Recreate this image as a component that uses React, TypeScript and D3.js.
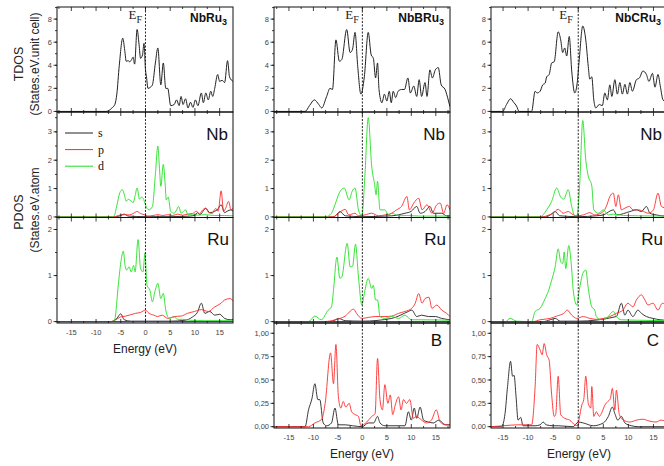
import * as d3 from 'd3'

type Pt = [number, number]

const energyTicks = [-15, -10, -5, 0, 5, 10, 15]
const compounds = ['NbRu', 'NbBRu', 'NbCRu']
const tdosTicks = [0, 2, 4, 6, 8]
const nbTicks = [0, 1, 2, 3]
const ruTicks = [0, 1, 2]
const lightTicks = [0, 0.25, 0.5, 0.75, 1]
const lightTickLabels = ['0,00', '0,25', '0,50', '0,75', '1,00']
const orbitals = ['s', 'p', 'd']
const lightAtoms = ['B', 'C']

// ---- NbRu3 ----
const tdosNbRu3: Pt[] = [[-17.9,0],[-8,0],[-7.5,0.05],[-6.8,0.3],[-6.2,0.6],[-5.8,1.5],[-5.3,4.0],[-4.6,6.35],[-4.2,5.3],[-3.9,4.35],[-3.5,4.4],[-3.2,4.3],[-2.8,4.5],[-2.5,4.7],[-2.2,4.1],[-1.7,7.1],[-1.3,5.8],[-1.0,4.6],[-0.6,4.9],[-0.3,5.9],[0,3.6],[0.2,3.0],[0.5,2.0],[1.0,2.1],[1.4,2.3],[2.0,4.2],[2.5,5.5],[3.1,2.3],[3.6,4.2],[4.1,2.0],[4.5,2.0],[5.1,0.5],[5.8,0.6],[6.3,1.0],[6.8,0.5],[7.2,1.3],[7.6,0.6],[8.1,1.1],[8.6,0.3],[9.1,0.8],[9.6,0.35],[10.1,1.0],[10.6,0.5],[11.3,1.6],[11.7,0.75],[12.2,1.6],[12.7,1.0],[13.2,1.75],[13.6,1.3],[14.0,2.0],[14.6,3.2],[15.0,2.6],[15.5,2.7],[16.0,2.5],[16.6,4.4],[17.0,3.0],[17.7,2.6]]
const nbSNbRu3: Pt[] = [[-17.9,0],[-6,0],[-5,0.05],[-4.3,0.1],[-3.5,0.03],[0,0.01],[5,0.01],[8,0.02],[10,0.05],[10.5,0.15],[11,0.08],[12.2,0.3],[13,0.15],[14,0.2],[14.5,0.25],[15.3,0.43],[16,0.15],[16.5,0.2],[17.3,0.25],[17.7,0.2]]
const nbPNbRu3: Pt[] = [[-17.9,0],[-6.5,0],[-5.5,0.05],[-5,0.07],[-4.2,0.08],[-3.3,0.07],[-2.5,0.12],[-1.7,0.19],[-1,0.12],[-0.3,0.08],[0.5,0.03],[1.5,0.05],[2.5,0.08],[3.5,0.05],[4.5,0.08],[5.5,0.05],[6.5,0.1],[7.5,0.06],[8.5,0.1],[9.5,0.12],[10.3,0.2],[11,0.1],[11.3,0.19],[12.2,0.31],[12.8,0.15],[13.5,0.13],[14.2,0.3],[14.7,0.2],[15.3,0.92],[15.8,0.2],[16.2,0.3],[16.8,0.55],[17.3,0.25],[17.7,0.3]]
const nbDNbRu3: Pt[] = [[-17.9,0],[-6.8,0],[-6.3,0.05],[-5.8,0.4],[-5.2,0.85],[-4.7,0.96],[-4.3,0.8],[-3.9,0.55],[-3.5,0.62],[-3.2,0.6],[-2.8,0.55],[-2.5,0.5],[-2.1,0.75],[-1.7,1.02],[-1.2,0.63],[-0.8,0.7],[-0.5,0.66],[0,0.43],[0.3,0.3],[0.7,0.25],[1.4,0.37],[2.0,1.5],[2.5,2.5],[2.8,1.8],[3.1,1.08],[3.6,1.85],[4.0,1.1],[4.2,0.6],[4.6,0.7],[5.1,0.19],[5.8,0.13],[6.3,0.25],[6.7,0.37],[7.2,0.13],[8.1,0.25],[8.6,0.07],[9.5,0.1],[10.5,0.06],[12,0.08],[14,0.05],[16,0.05],[17.7,0.04]]
const ruSNbRu3: Pt[] = [[-17.9,0],[-7,0],[-5.8,0.07],[-5.0,0.17],[-4.3,0.04],[-3,0.01],[5,0.01],[8,0.03],[9.5,0.1],[10.5,0.2],[11.3,0.4],[12,0.18],[13,0.22],[14,0.14],[15,0.16],[16,0.07],[17.1,0.04],[17.7,0.05]]
const ruPNbRu3: Pt[] = [[-17.9,0],[-7,0],[-6,0.04],[-5.1,0.1],[-4,0.12],[-3,0.15],[-2,0.18],[-1,0.2],[0,0.25],[0.7,0.18],[1.7,0.14],[2.4,0.11],[3.4,0.14],[4.5,0.07],[5.8,0.11],[7.2,0.12],[8.5,0.18],[9.9,0.22],[11.3,0.26],[12.7,0.22],[14,0.32],[15.3,0.4],[16,0.47],[17.1,0.5],[17.7,0.45]]
const ruDNbRu3: Pt[] = [[-17.9,0],[-6.5,0],[-6.2,0.05],[-5.5,0.8],[-4.9,1.35],[-4.5,1.53],[-4.1,1.2],[-3.8,1.12],[-3.3,1.19],[-2.9,1.08],[-2.4,1.22],[-2.1,1.08],[-1.5,1.78],[-1.0,1.15],[-0.5,1.08],[-0.1,1.49],[0.3,0.79],[0.9,0.68],[1.4,0.43],[1.9,0.65],[2.5,0.83],[3.1,0.5],[3.6,0.61],[4.1,0.25],[4.8,0.07],[5.8,0.1],[6.5,0.05],[7.5,0.05],[9,0.03],[12,0.02],[17.7,0.02]]

// ---- NbBRu3 ----
const tdosNbBRu3: Pt[] = [[-18,0],[-11.7,0],[-10.8,0.5],[-9.8,1.0],[-8.9,0.6],[-8.3,0.3],[-7.3,1.3],[-6.6,2.0],[-6.1,1.9],[-5.4,6.2],[-4.7,4.35],[-4.2,4.5],[-3.2,7.1],[-2.5,5.1],[-2.0,5.4],[-1.5,6.85],[-0.95,3.9],[-0.3,1.5],[0.4,3.0],[1.2,6.85],[1.8,4.9],[2.25,4.6],[2.7,2.9],[3.1,4.2],[3.4,1.9],[4.0,0.75],[4.5,1.5],[5.0,0.9],[5.5,1.75],[5.9,0.75],[6.3,1.75],[6.8,1.2],[7.3,1.75],[8.0,1.9],[8.6,1.9],[9.3,2.9],[9.8,1.6],[10.5,2.2],[11.1,1.3],[11.6,2.75],[12.1,1.3],[12.8,2.5],[13.2,1.3],[13.8,3.6],[14.3,2.9],[14.9,3.6],[15.5,3.8],[16.1,2.3],[16.9,1.9],[17.6,0.9],[17.9,0.4]]
const nbSNbBRu3: Pt[] = [[-18,0],[-6,0],[-5.3,0.07],[-4.6,0.19],[-3.5,0.04],[0,0.01],[6,0.04],[8.7,0.13],[10,0.2],[11.1,0.37],[11.8,0.13],[12.8,0.19],[13.8,0.37],[14.5,0.13],[16.2,0.13],[17.2,0.04],[17.9,0.04]]
const nbPNbBRu3: Pt[] = [[-18,0],[-6,0],[-4.9,0.13],[-3.5,0.27],[-2.8,0.07],[-1.5,0.13],[-0.8,0.04],[0.5,0.07],[1.9,0.13],[3.3,0.04],[4.6,0.07],[6.0,0.13],[7.0,0.25],[8.0,0.37],[9.1,0.72],[9.6,0.25],[10.5,0.49],[11.5,0.66],[12.2,0.25],[13.2,0.43],[14.2,0.13],[15.2,0.43],[15.9,0.49],[16.6,0.13],[17.3,0.43],[17.9,0.25]]
const nbDNbBRu3: Pt[] = [[-18,0],[-7.6,0],[-6.3,0.13],[-5.6,0.43],[-4.7,0.85],[-3.7,1.02],[-2.7,0.6],[-2.1,0.9],[-1.5,1.02],[-0.8,0.25],[-0.1,0.04],[0.5,1.4],[1.2,3.5],[1.9,1.8],[2.5,1.14],[2.8,0.78],[3.1,1.26],[3.6,0.25],[4.6,0.25],[5.3,0.07],[6.0,0.13],[7.4,0.04],[9,0.05],[12,0.03],[17.9,0.03]]
const ruSNbBRu3: Pt[] = [[-18,0],[-6.5,0],[-5.5,0.04],[-4.9,0.07],[-3.5,0.02],[0,0.01],[6,0.07],[9.4,0.22],[10.1,0.25],[11.1,0.11],[12.1,0.14],[13.5,0.11],[14.9,0.11],[16.2,0.07],[17.9,0.04]]
const ruPNbBRu3: Pt[] = [[-18,0],[-8,0],[-5.5,0.04],[-3.5,0.12],[-1.8,0.27],[-1.2,0.18],[-0.1,0.07],[1.2,0.09],[2.6,0.11],[4.6,0.11],[6.0,0.12],[7.4,0.18],[8.7,0.22],[10.1,0.29],[10.8,0.4],[11.5,0.61],[12.2,0.4],[12.8,0.5],[13.6,0.53],[14.2,0.29],[15.2,0.36],[16.2,0.25],[17.2,0.18],[17.9,0.11]]
const ruDNbBRu3: Pt[] = [[-18,0],[-11,0],[-9.7,0.12],[-8.4,0.04],[-7,0.25],[-6.3,0.32],[-5.9,0.68],[-5.2,1.4],[-4.6,0.94],[-4.2,0.97],[-3.1,1.7],[-2.5,1.19],[-2.0,1.2],[-1.4,1.68],[-0.8,0.97],[-0.1,0.36],[0.4,0.61],[1.2,0.94],[1.9,0.72],[2.25,0.79],[2.7,0.47],[3.1,0.47],[3.6,0.11],[4.6,0.07],[6.0,0.11],[7.4,0.07],[8.7,0.14],[10,0.04],[12,0.04],[17.9,0.03]]
const bS: Pt[] = [[-18,0],[-11.7,0],[-11,0.18],[-10.3,0.3],[-9.7,0.46],[-9.1,0.29],[-8.7,0.29],[-8.0,0.04],[-7.3,0.01],[-6.3,0.04],[-5.6,0.2],[-4.9,0.02],[-3.5,0.02],[-2,0.01],[0,0],[1.2,0.04],[2.3,0.04],[3.1,0.11],[3.6,0.04],[4.6,0.01],[8.7,0.01],[9.4,0.16],[10.0,0.07],[10.6,0.2],[11.1,0.09],[11.8,0.21],[12.5,0.07],[13.5,0.05],[14.5,0.04],[15.6,0.07],[17,0.02],[17.9,0.02]]
const bP: Pt[] = [[-18,0],[-11,0],[-9.7,0.04],[-8.3,0.08],[-7.6,0.25],[-6.5,0.79],[-5.9,0.46],[-5.4,0.88],[-4.9,0.32],[-4.4,0.2],[-3.9,0.27],[-3.4,0.21],[-2.7,0.25],[-2.2,0.16],[-1.5,0.13],[-0.8,0.11],[-0.3,0.01],[0.2,0.02],[0.9,0.05],[1.9,0.11],[2.6,0.14],[3.1,0.73],[3.6,0.29],[4.1,0.18],[4.6,0.45],[5.2,0.25],[5.7,0.34],[6.2,0.13],[6.7,0.23],[7.4,0.32],[7.9,0.18],[8.4,0.29],[9.0,0.25],[9.7,0.29],[10.4,0.09],[11.1,0.11],[12.1,0.07],[13.1,0.04],[14.1,0.07],[15.1,0.18],[15.9,0.05],[17,0.02],[17.9,0.02]]

// ---- NbCRu3 ----
const tdosNbCRu3: Pt[] = [[-17.4,0],[-15.1,0],[-14.3,0.6],[-13.5,1.1],[-12.9,0.8],[-12.3,0.46],[-11.8,0],[-9.3,0],[-8.6,1.75],[-8.2,1.6],[-7.6,1.75],[-7.1,2.3],[-6.6,2.45],[-6.3,3.0],[-5.8,3.2],[-5.3,4.2],[-4.8,4.3],[-4.0,6.9],[-3.5,6.2],[-3.1,5.1],[-2.7,5.5],[-2.3,4.8],[-1.8,6.5],[-1.3,3.5],[-0.7,1.6],[-0.2,2.5],[0.2,4.5],[0.9,7.4],[1.5,6.2],[2.0,3.9],[2.3,2.8],[2.7,3.0],[3.1,1.0],[3.5,0.3],[4.2,0.6],[4.8,0.5],[5.3,1.6],[5.8,1.0],[6.3,2.3],[6.7,1.3],[7.3,2.75],[7.8,1.5],[8.3,2.5],[8.8,1.5],[9.3,2.35],[9.8,1.5],[10.3,2.5],[10.8,1.75],[11.6,2.75],[12.2,2.9],[12.9,3.5],[13.6,3.2],[14.1,2.6],[14.8,3.3],[15.3,2.1],[15.9,3.2],[16.4,2.1],[16.9,1.0],[17.7,0.8]]
const nbSNbCRu3: Pt[] = [[-17.4,0],[-6.5,0],[-5.6,0.07],[-4.6,0.19],[-3.7,0.04],[0,0.01],[3.6,0.04],[5,0.07],[7,0.25],[7.7,0.07],[10.3,0.19],[11.6,0.25],[12.6,0.19],[13.6,0.37],[14.3,0.13],[15.6,0.07],[16.6,0.04],[17.7,0.03]]
const nbPNbCRu3: Pt[] = [[-17.4,0],[-7,0],[-6.3,0.04],[-5,0.13],[-4,0.27],[-3,0.13],[-2,0.19],[-1.3,0.11],[-0.3,0.04],[1,0.07],[2.3,0.15],[3.3,0.07],[5,0.19],[5.6,0.37],[6.3,0.72],[7.0,0.84],[7.5,0.37],[8.0,0.78],[8.6,0.25],[9.3,0.31],[10.2,0.37],[10.9,0.25],[12.0,0.25],[13.0,0.19],[14.0,0.13],[15.0,0.25],[15.9,0.84],[16.6,0.37],[17.7,0.3]]
const nbDNbCRu3: Pt[] = [[-17.4,0],[-7.6,0],[-6.3,0.25],[-5.3,0.55],[-4.3,1.02],[-3.5,0.7],[-2.9,0.63],[-2.0,0.96],[-1.3,0.37],[-0.7,0.04],[-0.2,0.07],[0.3,1.2],[0.9,3.4],[1.5,2.0],[2.0,1.44],[2.7,1.1],[3.1,0.25],[4.0,0.13],[5.0,0.25],[6.0,0.07],[7.0,0.1],[9,0.05],[12,0.04],[17.7,0.03]]
const ruSNbCRu3: Pt[] = [[-17.4,0],[-7,0],[-5.6,0.04],[-4.6,0.07],[-3.6,0.01],[0,0.01],[7.6,0.11],[8.6,0.4],[9.3,0.14],[9.9,0.25],[10.9,0.11],[11.9,0.25],[12.6,0.18],[13.6,0.11],[14.9,0.07],[16.3,0.04],[17.7,0.03]]
const ruPNbCRu3: Pt[] = [[-17.4,0],[-9,0],[-7.6,0.04],[-5.6,0.07],[-4.3,0.12],[-2.9,0.18],[-2.2,0.25],[-1.3,0.14],[-0.3,0.07],[1.0,0.11],[2.3,0.07],[3.6,0.05],[5.0,0.07],[6.3,0.11],[7.6,0.18],[8.9,0.25],[9.9,0.4],[10.9,0.32],[11.6,0.47],[12.6,0.58],[13.3,0.47],[13.9,0.36],[14.9,0.4],[15.9,0.25],[16.8,0.4],[17.7,0.3]]
const ruDNbCRu3: Pt[] = [[-17.4,0],[-14.5,0],[-13.6,0.07],[-12.3,0.01],[-9.3,0],[-8.6,0.22],[-7.6,0.29],[-6.6,0.5],[-5.9,0.68],[-5.3,0.9],[-4.6,1.19],[-4.0,1.58],[-3.5,1.3],[-3.1,1.26],[-2.8,1.51],[-2.5,1.15],[-1.9,1.65],[-1.3,1.12],[-1.0,0.68],[-0.3,0.36],[0.2,0.68],[0.9,1.04],[1.5,1.12],[2.0,0.72],[2.7,0.32],[3.3,0.25],[3.6,0.11],[4.6,0.04],[5.6,0.07],[7.0,0.22],[7.6,0.11],[8.6,0.04],[12,0.03],[17.7,0.02]]
const cS: Pt[] = [[-17.4,0],[-15.3,0],[-14.6,0.14],[-14.1,0.43],[-13.5,0.7],[-13.1,0.54],[-12.8,0.55],[-12.4,0.32],[-12.0,0.07],[-11.5,0.1],[-11.0,0.01],[-8.6,0.01],[-7.6,0.02],[-7.0,0.05],[-6.4,0.02],[-5.0,0.01],[-4.0,0.01],[-1,0],[0,0.05],[1,0.04],[3,0.01],[5,0.04],[6.0,0.11],[6.8,0.21],[7.3,0.14],[7.9,0.07],[8.6,0.11],[9.3,0.04],[10.6,0.01],[12,0],[17.7,0]]
const cP: Pt[] = [[-17.4,0],[-15,0.01],[-12,0.02],[-9.3,0.02],[-8.6,0.43],[-8.2,0.88],[-7.6,0.82],[-7.2,0.77],[-6.8,0.89],[-6.3,0.77],[-5.8,0.71],[-5.3,0.34],[-4.8,0.11],[-4.5,0.13],[-4.0,0.54],[-3.5,0.13],[-2.7,0.09],[-1.7,0.07],[-0.7,0.02],[-0.1,0.01],[0.2,0.09],[0.7,0.23],[1.1,0.29],[1.5,0.54],[2.0,0.25],[2.5,0.2],[2.7,0.43],[3.1,0.11],[3.6,0.16],[4.2,0.11],[4.6,0.14],[5.3,0.23],[5.9,0.27],[6.4,0.3],[6.8,0.41],[7.3,0.18],[7.6,0.39],[8.2,0.13],[9.0,0.07],[10.3,0.05],[11.6,0.07],[12.9,0.08],[14.2,0.06],[15.5,0.05],[16.5,0.07],[17.7,0.05]]

const colS = '#222'
const colP = '#ff2a2a'
const colD = '#22e022'
const colBase = '#3344bb'
const sans = "'Liberation Sans', Arial, sans-serif"
const serif = "'Liberation Serif', 'Times New Roman', serif"

// layout
const rows = [
  { top: 7, bottom: 112 },
  { top: 112, bottom: 217.5 },
  { top: 217.5, bottom: 323 },
  { top: 323, bottom: 428 },
]

const columns = [
  { x0: 57, x1: 233, dom: [-17.9, 17.7], tdos: tdosNbRu3, nb: [nbSNbRu3, nbPNbRu3, nbDNbRu3], ru: [ruSNbRu3, ruPNbRu3, ruDNbRu3], light: null as null | Pt[][], efOff: -17 },
  { x0: 274, x1: 450, dom: [-18.05, 17.9], tdos: tdosNbBRu3, nb: [nbSNbBRu3, nbPNbBRu3, nbDNbBRu3], ru: [ruSNbBRu3, ruPNbBRu3, ruDNbBRu3], light: [bS, bP], efOff: -17 },
  { x0: 491, x1: 667, dom: [-17.4, 17.7], tdos: tdosNbCRu3, nb: [nbSNbCRu3, nbPNbCRu3, nbDNbCRu3], ru: [ruSNbCRu3, ruPNbCRu3, ruDNbCRu3], light: [cS, cP], efOff: -19 },
]

type PanelProps = {
  id: string
  x: d3.ScaleLinear<number, number>
  top: number
  bottom: number
  yDomain: [number, number]
  ticks: number[]
  labels?: string[]
  minorStep: number
  series: { data: Pt[]; color: string; width?: number }[]
}

function Panel({ id, x, top, bottom, yDomain, ticks, labels, minorStep, series }: PanelProps) {
  const y = d3.scaleLinear().domain(yDomain).range([bottom, top])
  const [x0, x1] = x.range()
  const line = d3.line<Pt>().x(d => x(d[0])).y(d => y(d[1])).curve(d3.curveMonotoneX)
  const minorY = d3.range(0, yDomain[1] + 1e-9, minorStep)
  const xMinor = d3.range(-17.5, 17.6, 2.5).filter(v => x(v) > x0 + 1 && x(v) < x1 - 1)
  return (
    <g>
      <defs>
        <clipPath id={id}>
          <rect x={x0} y={top} width={x1 - x0} height={bottom - top} />
        </clipPath>
      </defs>
      <g clipPath={`url(#${id})`}>
        {series.map((s, i) => (
          <path key={i} d={line(s.data) || ''} fill="none" stroke={s.color} strokeWidth={s.width ?? 0.9} strokeLinejoin="round" />
        ))}
      </g>
      <rect x={x0} y={top} width={x1 - x0} height={bottom - top} fill="none" stroke="#111" strokeWidth={1} />
      {xMinor.map(v => {
        const len = v % 5 === 0 ? 4 : 2
        return (
          <g key={v} stroke="#111" strokeWidth={0.8}>
            <line x1={x(v)} x2={x(v)} y1={bottom} y2={bottom - len} />
            <line x1={x(v)} x2={x(v)} y1={top} y2={top + len} />
          </g>
        )
      })}
      {minorY.map(v => (
        <line key={'m' + v} x1={x0 - 2} x2={x0} y1={y(v)} y2={y(v)} stroke="#111" strokeWidth={0.8} />
      ))}
      {ticks.map((v, i) => (
        <g key={'t' + v}>
          <line x1={x0 - 3.5} x2={x0} y1={y(v)} y2={y(v)} stroke="#111" strokeWidth={0.8} />
          <text x={x0 - 5} y={y(v) + 2.6} textAnchor="end" fontSize={7.5} fill="#444" fontFamily={sans}>
            {labels ? labels[i] : v}
          </text>
        </g>
      ))}
    </g>
  )
}

export default function App() {
  return (
    <svg width={664} height={466} style={{ position: 'absolute', left: 0, top: 0, background: '#fff' }}>
      <rect width={664} height={466} fill="#fff" />
      {columns.map((col, ci) => {
        const x = d3.scaleLinear().domain(col.dom).range([col.x0, col.x1])
        const lastRow = col.light ? rows[3] : rows[2]
        const cx = (col.x0 + col.x1) / 2
        const ef = x(0)
        return (
          <g key={ci}>
            <Panel id={`tdos${ci}`} x={x} top={rows[0].top} bottom={rows[0].bottom} yDomain={[-0.05, 9.05]} ticks={tdosTicks} minorStep={1}
              series={[{ data: col.tdos, color: '#222', width: 1 }]} />
            <Panel id={`nb${ci}`} x={x} top={rows[1].top} bottom={rows[1].bottom} yDomain={[-0.02, 3.7]} ticks={nbTicks} minorStep={0.5}
              series={[{ data: col.nb[0], color: colS }, { data: col.nb[1], color: colP }, { data: col.nb[2], color: colD }]} />
            <Panel id={`ru${ci}`} x={x} top={rows[2].top} bottom={rows[2].bottom} yDomain={[-0.03, 2.26]} ticks={ruTicks} minorStep={0.5}
              series={[{ data: col.ru[0], color: colS }, { data: col.ru[1], color: colP }, { data: col.ru[2], color: colD }, { data: [[col.dom[0], 0], [col.dom[1], 0]], color: colBase, width: 1.2 }]} />
            {col.light && (
              <Panel id={`lt${ci}`} x={x} top={rows[3].top} bottom={rows[3].bottom} yDomain={[-0.014, 1.11]} ticks={lightTicks} labels={lightTickLabels} minorStep={0.125}
                series={[{ data: col.light[0], color: colS }, { data: col.light[1], color: colP }]} />
            )}
            {/* Fermi level */}
            <line x1={ef} x2={ef} y1={rows[0].top} y2={lastRow.bottom} stroke="#111" strokeWidth={0.9} strokeDasharray="2,1.5" />
            <text x={ef + col.efOff} y={19} fontSize={13} fontFamily={serif} fill="#222">
              E<tspan fontSize={10} dy={3.5}>F</tspan>
            </text>
            {/* compound title */}
            <text x={col.x1 - 6} y={22} textAnchor="end" fontSize={12} fontWeight="bold" fontFamily={sans} fill="#111">
              {compounds[ci]}<tspan fontSize={9} dy={2.5}>3</tspan>
            </text>
            <text x={col.x1 - 5} y={139.5} textAnchor="end" fontSize={17} fontFamily={sans} fill="#111">Nb</text>
            <text x={col.x1 - 4} y={244.5} textAnchor="end" fontSize={17} fontFamily={sans} fill="#111">Ru</text>
            {col.light && (
              <text x={col.x1 - 8} y={346} textAnchor="end" fontSize={17} fontFamily={sans} fill="#111">{lightAtoms[ci - 1]}</text>
            )}
            {/* energy axis */}
            {energyTicks.map(v => (
              <text key={v} x={x(v)} y={lastRow.bottom + 11.5} textAnchor="middle" fontSize={7.5} fill="#444" fontFamily={sans}>{v}</text>
            ))}
            <text x={cx} y={lastRow.bottom + 29.5} textAnchor="middle" fontSize={12} fill="#222" fontFamily={sans}>Energy (eV)</text>
          </g>
        )
      })}
      {/* legend in NbRu3 Nb panel */}
      {orbitals.map((o, i) => (
        <g key={o}>
          <line x1={65} x2={93} y1={133 + i * 16.6} y2={133 + i * 16.6} stroke={[colS, colP, colD][i]} strokeWidth={1} />
          <text x={98} y={137 + i * 16.6} fontSize={12} fontFamily={serif} fill="#111">{o}</text>
        </g>
      ))}
      {/* y-axis titles */}
      <text transform="translate(23,64) rotate(-90)" textAnchor="middle" fontSize={12.5} fontFamily={sans} fill="#222">TDOS</text>
      <text transform="translate(39,64) rotate(-90)" textAnchor="middle" fontSize={12} fontFamily={sans} fill="#222">(States.eV.unit cell)</text>
      <text transform="translate(23,212) rotate(-90)" textAnchor="middle" fontSize={12.5} fontFamily={sans} fill="#222">PDOS</text>
      <text transform="translate(39,210) rotate(-90)" textAnchor="middle" fontSize={12} fontFamily={sans} fill="#222">(States.eV.atom</text>
    </svg>
  )
}
